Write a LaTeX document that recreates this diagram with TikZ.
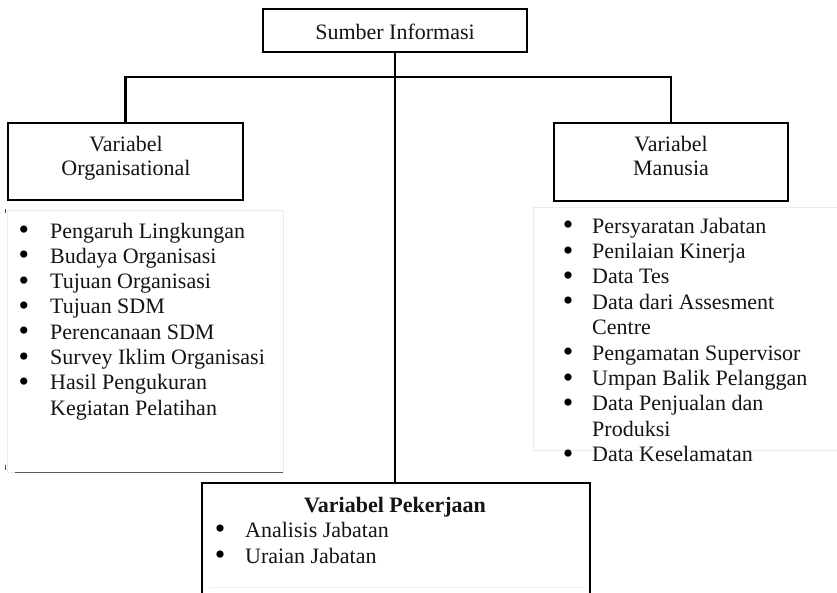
\documentclass[tikz,border=0pt]{standalone}
\usepackage{fontspec}
\setmainfont{Liberation Serif}
\begin{document}
\begin{tikzpicture}[x=1pt,y=-1pt,
  box/.style={draw=black, line width=2.6pt, inner sep=0pt, fill=white},
  frame/.style={draw=black!8, line width=0.8pt, inner sep=0pt},
  link/.style={line width=2.6pt, draw=black},
  lbl/.style={font=\fontsize{22}{25}\selectfont, text=black!92, inner sep=0pt, anchor=base},
  item/.style={font=\fontsize{22}{25}\selectfont, text=black!92, inner sep=0pt, anchor=base west},
  dot/.style={font=\fontsize{30}{30}\selectfont, text=black, inner sep=0pt,
    text height=12pt, text depth=0pt, anchor=base, yshift=-1.6pt}]
\clip (0,0) rectangle (837,592);
\fill[white] (0,0) rectangle (837,592);

% boxes
\node[box, minimum width=264pt, minimum height=43pt] (top) at (395,30.5) {};
\node[box, minimum width=235pt, minimum height=77pt] (org) at (125.5,161.5) {};
\node[box, minimum width=234pt, minimum height=78pt] (man) at (671,162) {};
\node[box, minimum width=388pt, minimum height=136pt] (job) at (396,551) {};

% box labels
\node[lbl] (topT) at (395,39) {Sumber Informasi};
\node[lbl] (orgA) at (126,151) {Variabel};
\node[lbl] (orgB) at (126,175) {Organisational};
\node[lbl] (manA) at (671,151) {Variabel};
\node[lbl] (manB) at (671,175) {Manusia};
\node[lbl, font=\fontsize{22}{25}\selectfont\bfseries] (jobT) at (395,512) {Variabel Pekerjaan};

% connectors
\coordinate (hub) at (395,77);
\draw[link] (top.south) -- (top.south |- job.north);
\draw[link] (org.north) |- (hub) -| (man.north);

% text frames of the two lists
\node[frame, minimum width=276pt, minimum height=262pt] (lframe) at (145,341) {};
\node[frame, minimum width=304pt, minimum height=243pt] (rframe) at (685,328.5) {};
\draw[black!65, line width=1.6pt] ([xshift=8pt]lframe.south west) -- (lframe.south east);
\draw[black!70, line width=1pt] (5,209) -- (5,213);
\draw[black!70, line width=1pt] (5,465) -- (5,470);
\draw[black!6, line width=0.8pt] (210,587) -- (585,587);

% organisational variables
\foreach \t/\b [count=\i] in {Pengaruh Lingkungan/1, Budaya Organisasi/1,
    Tujuan Organisasi/1, Tujuan SDM/1, Perencanaan SDM/1,
    Survey Iklim Organisasi/1, Hasil Pengukuran/1, Kegiatan Pelatihan/0} {
  \node[item] (L\i) at (50,{238+25.3*(\i-1)}) {\t};
  \ifnum\b=1 \node[dot] (Lb\i) at (24,{238+25.3*(\i-1)}) {\textbullet}; \fi
}

% human variables
\foreach \t/\b [count=\i] in {Persyaratan Jabatan/1, Penilaian Kinerja/1,
    Data Tes/1, Data dari Assesment/1, Centre/0, Pengamatan Supervisor/1,
    Umpan Balik Pelanggan/1, Data Penjualan dan/1, Produksi/0,
    Data Keselamatan/1} {
  \node[item] (R\i) at (592,{233+25.4*(\i-1)}) {\t};
  \ifnum\b=1 \node[dot] (Rb\i) at (568,{233+25.4*(\i-1)}) {\textbullet}; \fi
}

% job variables
\foreach \t [count=\i] in {Analisis Jabatan, Uraian Jabatan} {
  \node[item] (J\i) at (245,{537+26*(\i-1)}) {\t};
  \node[dot] (Jb\i) at (220,{537+26*(\i-1)}) {\textbullet};
}
\end{tikzpicture}
\end{document}
